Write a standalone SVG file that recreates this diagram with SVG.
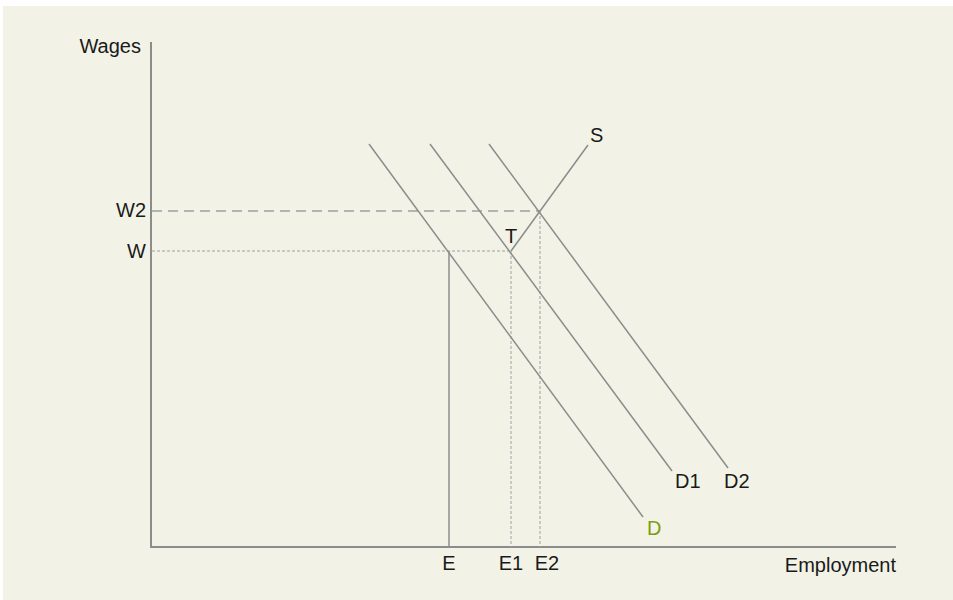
<svg xmlns="http://www.w3.org/2000/svg" width="953" height="600" viewBox="0 0 953 600">
<style>
text{font-family:"Liberation Sans",Arial,sans-serif;font-size:20px;fill:#1a1a1a}
.ax{stroke:#8c8c8c;stroke-width:2;fill:none}
.ln{stroke:#8c8c8c;stroke-width:1.5;fill:none}
.dash{stroke:#a0a0a0;stroke-width:1.5;stroke-dasharray:10 6;fill:none}
.dot{stroke:#a0a0a0;stroke-width:1;stroke-dasharray:3 2;fill:none}
</style>
<rect x="0" y="0" width="953" height="600" fill="#ffffff"/>
<rect x="3" y="6" width="950" height="594" fill="#f2f3e6"/>
<g id="axes">
<line class="ax" x1="151" y1="42" x2="151" y2="548"/>
<line class="ax" x1="150" y1="547" x2="896" y2="547"/>
<text x="141" y="53" text-anchor="end">Wages</text>
<text x="896" y="572" text-anchor="end">Employment</text>
</g>
<g id="connectors">
<line class="dash" x1="152" y1="211" x2="540" y2="211"/>
<line class="dot" x1="152" y1="251" x2="511" y2="251"/>
<line class="ln" x1="449" y1="251" x2="449" y2="547"/>
<line class="dot" x1="511" y1="251" x2="511" y2="547"/>
<line class="dot" x1="540" y1="211" x2="540" y2="547"/>
</g>
<g id="D"><line class="ln" x1="369" y1="144" x2="643" y2="517"/><text x="647" y="535" style="fill:#7f9c12">D</text></g>
<g id="D1"><line class="ln" x1="430" y1="144" x2="672" y2="471"/><text x="675" y="488">D1</text></g>
<g id="D2"><line class="ln" x1="489" y1="144" x2="728" y2="468"/><text x="724" y="488">D2</text></g>
<g id="S"><line class="ln" x1="511" y1="251" x2="588" y2="145"/><text x="590" y="142">S</text></g>
<g id="labels">
<text x="146" y="217" text-anchor="end">W2</text>
<text x="146" y="258" text-anchor="end">W</text>
<text x="511" y="243" text-anchor="middle">T</text>
<text x="449" y="570" text-anchor="middle">E</text>
<text x="511" y="570" text-anchor="middle">E1</text>
<text x="547" y="570" text-anchor="middle">E2</text>
</g>
</svg>
